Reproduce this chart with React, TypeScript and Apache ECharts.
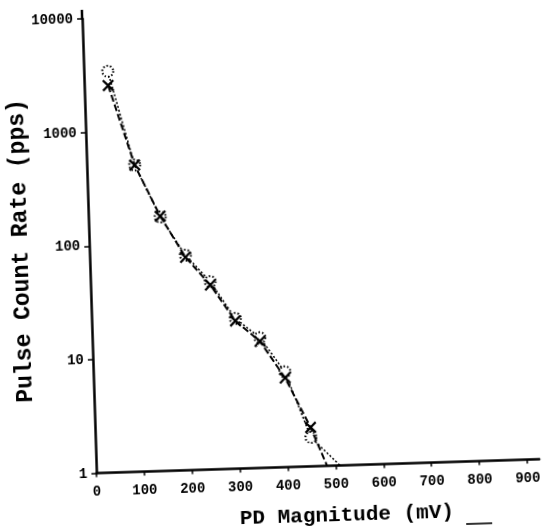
import React, { useEffect, useRef } from "react";
import * as echarts from "echarts";

// PD magnitude axis ticks (mV) and pulse-count-rate decades (pps)
const magnitudeTicks = [0, 100, 200, 300, 400, 500, 600, 700, 800, 900];
const rateTicks = [1, 10, 100, 1000, 10000];

// Measured curve drawn with crosses
const crossMagnitude = [50, 100, 150, 200, 250, 300, 350, 400, 450, 482];
const crossRate = [2550, 500, 175, 75, 42, 20, 13, 6.1, 2.2, 1];

// Second curve drawn with open circles
const circleMagnitude = [50, 100, 150, 200, 250, 300, 350, 400, 450, 509];
const circleRate = [3400, 500, 172, 78, 45, 21, 14, 6.9, 1.8, 1];

const CROSS =
  "path://M0,1.3L1.3,0L5,3.7L8.7,0L10,1.3L6.3,5L10,8.7L8.7,10L5,6.3L1.3,10L0,8.7L3.7,5Z";

const MONO = "'Liberation Mono', 'DejaVu Sans Mono', monospace";

function toPoints(xs: number[], ys: number[]) {
  return xs.map((x, i) => {
    const last = i === xs.length - 1;
    return last ? { value: [x, ys[i]], symbol: "none" } : { value: [x, ys[i]] };
  });
}

export default function App() {
  const ref = useRef<HTMLDivElement>(null);

  useEffect(() => {
    document.body.style.margin = "0";
    const chart = echarts.init(ref.current!, null, { renderer: "svg" });
    chart.setOption({
      animation: false,
      backgroundColor: "#ffffff",
      grid: { left: 90, right: 11, top: 13, bottom: 64.5 },
      xAxis: {
        type: "value",
        min: 0,
        max: 925,
        interval: 100,
        splitLine: { show: false },
        axisLine: { show: true, lineStyle: { color: "#000", width: 2.5 } },
        axisTick: {
          show: true,
          length: 4,
          customValues: magnitudeTicks,
          lineStyle: { color: "#000", width: 1.5 },
        },
        axisLabel: {
          customValues: magnitudeTicks,
          margin: 11,
          color: "#000",
          fontFamily: MONO,
          fontWeight: "bold",
          fontSize: 14,
          formatter: (v: number) => String(v),
        },
      },
      yAxis: {
        type: "log",
        logBase: 10,
        min: rateTicks[0],
        max: rateTicks[rateTicks.length - 1],
        splitLine: { show: false },
        minorTick: { show: false },
        axisLine: { show: true, lineStyle: { color: "#000", width: 2.5 } },
        axisTick: { show: true, length: 5, lineStyle: { color: "#000", width: 1.5 } },
        axisLabel: {
          margin: 9,
          color: "#000",
          fontFamily: MONO,
          fontWeight: "bold",
          fontSize: 14,
          formatter: (v: number) => String(Math.round(v)),
        },
      },
      graphic: [
        {
          type: "line",
          shape: { x1: 90, y1: 4, x2: 90, y2: 14 },
          style: { stroke: "#000", lineWidth: 2.5 },
        },
        {
          type: "text",
          x: 22,
          y: 243,
          rotation: Math.PI / 2,
          style: {
            text: "Pulse Count Rate (pps)",
            font: `bold 23px ${MONO}`,
            fill: "#000",
            align: "center",
            verticalAlign: "middle",
            textAlign: "center",
            textVerticalAlign: "middle",
          },
        },
        {
          type: "text",
          x: 339,
          y: 517,
          style: {
            text: "PD Magnitude (mV)",
            font: `bold 21px ${MONO}`,
            fill: "#000",
            align: "center",
            verticalAlign: "middle",
            textAlign: "center",
            textVerticalAlign: "middle",
          },
        },
        {
          type: "line",
          shape: { x1: 458, y1: 530, x2: 484, y2: 530 },
          style: { stroke: "#000", lineWidth: 1.6 },
        },
      ],
      series: [
        {
          type: "line",
          data: toPoints(circleMagnitude, circleRate),
          symbol: "emptyCircle",
          symbolSize: 11,
          itemStyle: { color: "#000", borderColor: "#000", borderWidth: 1.1, borderType: [1.5, 2] },
          lineStyle: { color: "#000", width: 1.5, type: [2, 2] },
          z: 2,
        },
        {
          type: "line",
          data: toPoints(crossMagnitude, crossRate),
          symbol: CROSS,
          symbolSize: 12,
          itemStyle: { color: "#000" },
          lineStyle: { color: "#000", width: 2, type: [7, 3] },
          z: 3,
        },
      ],
    });
    return () => chart.dispose();
  }, []);

  return (
    <div
      ref={ref}
      style={{
        position: "fixed",
        left: 0,
        top: 0,
        width: 544,
        height: 532,
        background: "#fff",
        transform: "rotate(-1.8deg)",
        transformOrigin: "50% 50%",
      }}
    />
  );
}
